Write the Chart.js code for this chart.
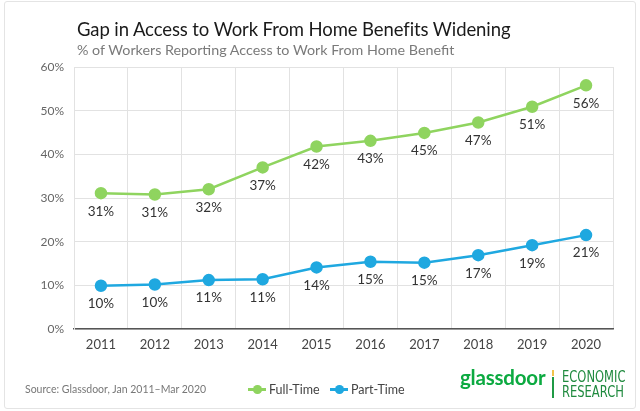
<!DOCTYPE html>
<html>
<head>
<meta charset="utf-8">
<script src="https://cdn.jsdelivr.net/npm/chart.js@4"></script>
<style>
    body { margin: 0; background: #fff; font-family: Lato, sans-serif; }
    #wrap { position: relative; width: 640px; height: 411px; overflow: hidden; }
    #frame { position: absolute; left: 4px; top: 1px; width: 630px; height: 406px; border: 1.5px solid #e4e4e4; border-radius: 3px; }
    #chart { position: absolute; left: 0; top: 0; }
    .txt { position: absolute; white-space: nowrap; }
    #title { left: 77px; top: 18px; font-size: 18.5px; color: #1a1a1a; letter-spacing: -0.1px; }
    #subtitle { left: 77px; top: 41px; font-size: 14.3px; color: #7a7a7a; }
    #source { left: 25px; top: 383px; font-size: 10.5px; color: #777; }
    .leg { position: absolute; top: 382px; font-size: 12.5px; color: #444; display: flex; align-items: center; }
    .leg i { display: inline-block; width: 18px; height: 2.5px; position: relative; margin-right: 3px; }
    .leg i b { position: absolute; left: 5px; top: -3px; width: 8.5px; height: 8.5px; border-radius: 50%; }
    #logo { left: 460px; top: 365px; font-size: 20.5px; font-weight: bold; color: #0caa41; letter-spacing: -0.2px; }
    #sep1 { position: absolute; left: 552px; top: 370px; width: 2px; height: 6px; background: #f2c34a; }
    #sep2 { position: absolute; left: 552px; top: 377px; width: 2px; height: 21px; background: #1f9a45; }
    .econ { left: 562px; font-family: "DejaVu Sans", sans-serif; font-size: 16px; color: #1f8a3e; transform-origin: left top; transform: scaleX(0.72); line-height: 16px; }
</style>
</head>
<body>
<div id="wrap">
    <div id="frame"></div>
    <canvas id="chart" width="640" height="411"></canvas>
    <div class="txt" id="title">Gap in Access to Work From Home Benefits Widening</div>
    <div class="txt" id="subtitle">% of Workers Reporting Access to Work From Home Benefit</div>
    <div class="txt" id="source">Source: Glassdoor, Jan 2011–Mar 2020</div>
    <div class="leg" style="left:248px"><i style="background:#8fd45f"><b style="background:#8fd45f"></b></i>Full-Time</div>
    <div class="leg" style="left:330px"><i style="background:#1fa8e0"><b style="background:#1fa8e0"></b></i>Part-Time</div>
    <div class="txt" id="logo">glassdoor</div>
    <div id="sep1"></div><div id="sep2"></div>
    <div class="txt econ" style="top:369px">ECONOMIC</div>
    <div class="txt econ" style="top:384px">RESEARCH</div>
</div>
<script>
const years = ['2011', '2012', '2013', '2014', '2015', '2016', '2017', '2018', '2019', '2020'];
const fullTime = [31.1, 30.8, 32.0, 37.0, 41.8, 43.1, 44.9, 47.3, 50.9, 55.8];
const partTime = [9.9, 10.2, 11.2, 11.4, 14.1, 15.4, 15.2, 16.9, 19.2, 21.5];
const fullTimeLabels = ['31%', '31%', '32%', '37%', '42%', '43%', '45%', '47%', '51%', '56%'];
const partTimeLabels = ['10%', '10%', '11%', '11%', '14%', '15%', '15%', '17%', '19%', '21%'];

const green = '#8fd45f';
const blue = '#1fa8e0';

// labels drawn under each point
const pointLabels = {
    id: 'pointLabels',
    afterDatasetsDraw(chart) {
        const ctx = chart.ctx;
        ctx.save();
        ctx.font = '13.5px Lato';
        ctx.fillStyle = '#333';
        ctx.textAlign = 'center';
        ctx.textBaseline = 'middle';
        chart.data.datasets.forEach((ds, i) => {
            chart.getDatasetMeta(i).data.forEach((pt, j) => {
                ctx.fillText(ds.labelsText[j], pt.x, pt.y + 18);
            });
        });
        ctx.restore();
    }
};

new Chart(document.getElementById('chart'), {
    type: 'line',
    data: {
        labels: years,
        datasets: [{
            label: 'Full-Time',
            data: fullTime,
            labelsText: fullTimeLabels,
            borderColor: green,
            backgroundColor: green,
            borderWidth: 2.5,
            pointRadius: 5,
            pointHoverRadius: 5,
            tension: 0
        }, {
            label: 'Part-Time',
            data: partTime,
            labelsText: partTimeLabels,
            borderColor: blue,
            backgroundColor: blue,
            borderWidth: 2.5,
            pointRadius: 5,
            pointHoverRadius: 5,
            tension: 0
        }]
    },
    options: {
        responsive: false,
        animation: false,
        events: [],
        layout: { padding: { left: 0, top: 67, right: 27, bottom: 0 } },
        plugins: { legend: { display: false }, tooltip: { enabled: false } },
        scales: {
            x: {
                offset: true,
                grid: { offset: true, color: '#e2e2e2', drawTicks: false },
                border: { color: '#555', width: 1.5 },
                ticks: { color: '#444', font: { family: 'Lato', size: 13 }, padding: 8 },
                afterFit: s => { s.height = 82; }
            },
            y: {
                min: 0,
                max: 60,
                ticks: {
                    stepSize: 10,
                    color: '#666',
                    font: { family: 'Lato', size: 12 },
                    padding: 10,
                    callback: v => v + '%'
                },
                grid: { color: '#e2e2e2', drawTicks: false },
                border: { color: '#e2e2e2' },
                afterFit: s => { s.width = 74; }
            }
        }
    },
    plugins: [pointLabels]
});
</script>
</body>
</html>
